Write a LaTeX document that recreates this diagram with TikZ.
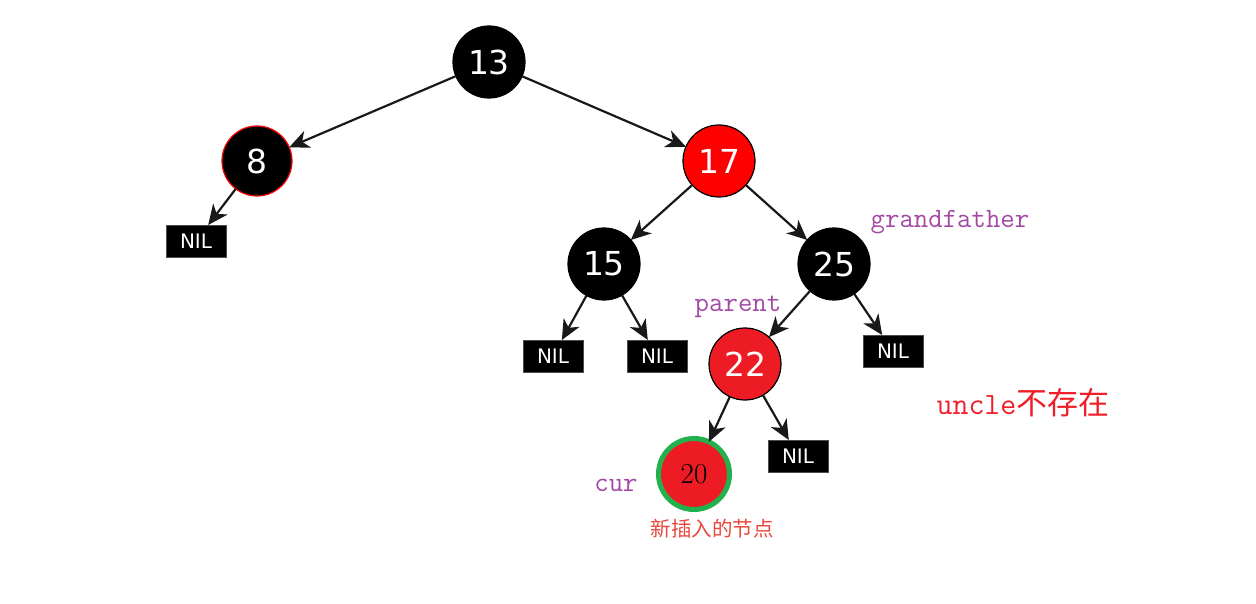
\documentclass[tikz,border=0pt]{standalone}
\usepackage{fontspec}
\newfontfamily\nodefont{DejaVu Sans}
\newfontfamily\cjk{Noto Sans CJK SC}
\usetikzlibrary{arrows.meta}
\definecolor{nodered}{HTML}{ED1C24}
\definecolor{ringgreen}{HTML}{22B14C}
\definecolor{labelpurple}{HTML}{A349A4}
\definecolor{uncred}{HTML}{F01E28}
\definecolor{newred}{HTML}{E8473C}
\begin{document}
\begin{tikzpicture}[x=1pt,y=-1pt]
\tikzset{ >={Stealth[length=20pt,width=18pt,inset=6pt]}, inner sep=0pt, outer sep=0pt,
  blk/.style={circle, fill=black, draw=black, line width=1.2pt, minimum size=72pt,
    text=white, font=\nodefont\fontsize{33}{33}\selectfont},
  redn/.style={blk, fill=red},
  nil/.style={fill=black, draw=black!70, minimum width=60pt, minimum height=32pt,
    text=white, font=\nodefont\fontsize{20}{20}\selectfont},
  lbl/.style={text=labelpurple, font=\ttfamily\fontsize{28}{28}\selectfont},
  edge/.style={->, line width=2.2pt, black!90},
}
\useasboundingbox (0,0) rectangle (1256,604);

\node [blk] (N13) at (489,62) {13};
\node [blk, draw=red, minimum size=70pt] (N8) at (257,161) {8};
\node [redn] (N17) at (719,161) {17};
\node [blk] (N15) at (604,264) {15};
\node [blk] (N25) at (834,264) {25};
\node [redn, fill=nodered] (N22) at (745,364) {22};
\node [circle, fill=nodered, draw=ringgreen, line width=5pt, minimum size=71pt,
  font=\fontsize{29}{29}\selectfont] (N20) at (694,474) {20};

\node [nil] (L8)  at (196,241) {NIL};
\node [nil] (L15a) at (553,356) {NIL};
\node [nil] (L15b) at (657,356) {NIL};
\node [nil] (L25) at (893,351) {NIL};
\node [nil] (L22) at (798,456) {NIL};

\draw [edge] (N13) -- (N8);
\draw [edge] (N13) -- (N17);
\draw [edge] (N8)  -- (L8);
\draw [edge] (N17) -- (N15);
\draw [edge] (N17) -- (N25);
\draw [edge] (N15) -- (L15a);
\draw [edge] (N15) -- (L15b);
\draw [edge] (N25) -- (N22);
\draw [edge] (N25) -- (L25);
\draw [edge] (N22) -- (N20);
\draw [edge] (N22) -- (L22);

\node [lbl] (grand) at (950,222) {grandfather};
\node [lbl] (par) at (738,307) {parent};
\node [lbl] (cur) at (616,485) {cur};
\node [text=uncred, font=\ttfamily\fontsize{31}{31}\selectfont] (uncle) at (1023,403) {uncle{\cjk 不存在}};
\node [text=newred, font=\cjk\fontsize{20.5}{20.5}\selectfont] (newlbl) at (712,529) {新插入的节点};

\end{tikzpicture}
\end{document}
